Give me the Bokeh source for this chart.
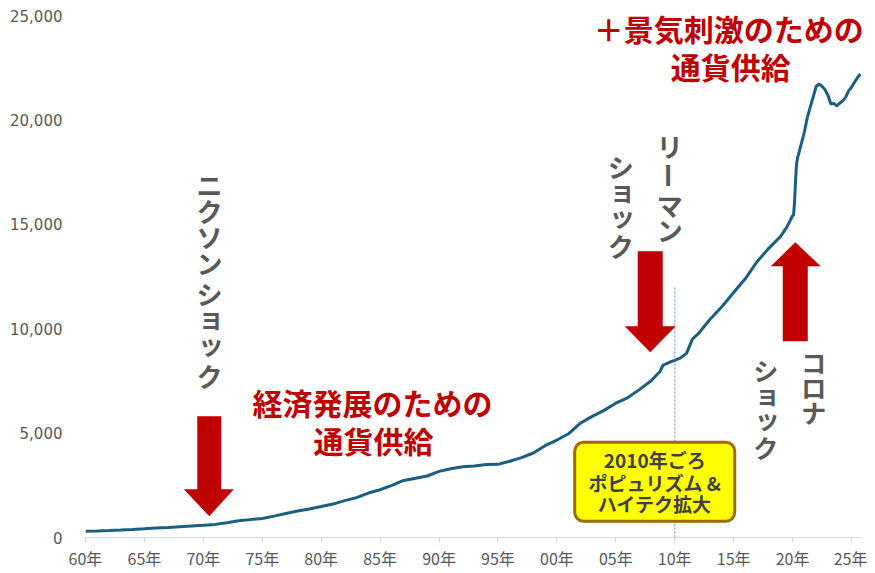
import math
from bokeh.plotting import figure
from bokeh.models import (ColumnDataSource, FixedTicker, NumeralTickFormatter, Range1d,
                          Label, BoxAnnotation)
from bokeh.core.properties import value
from bokeh.embed import file_html
from bokeh.resources import INLINE

# ---------------- data (US M2, billions of dollars) ----------------
dates = ["1960-01", "1961-01", "1962-01", "1963-01", "1964-01", "1965-01", "1966-01", "1967-01",
         "1968-01", "1969-01", "1970-01", "1971-01", "1972-01", "1973-01", "1974-01", "1975-01",
         "1976-01", "1977-01", "1978-01", "1979-01", "1980-01", "1981-01", "1982-01", "1983-01",
         "1984-01", "1985-01", "1986-01", "1987-01", "1988-01", "1989-01", "1990-01", "1991-01",
         "1992-01", "1993-01", "1994-01", "1995-01", "1996-01", "1997-01", "1998-01", "1999-01",
         "2000-01", "2001-01", "2002-01", "2003-01", "2004-01", "2005-01", "2006-01", "2007-01",
         "2008-01", "2008-10", "2009-01", "2009-07", "2010-01", "2010-07", "2011-01", "2011-07",
         "2012-01", "2013-01", "2014-01", "2015-01", "2016-01", "2017-01", "2018-01", "2019-01",
         "2019-07", "2020-01", "2020-02", "2020-03", "2020-04", "2020-05", "2020-06", "2020-09",
         "2021-01", "2021-04", "2021-07", "2021-10", "2022-01", "2022-04", "2022-07", "2022-10",
         "2023-01", "2023-04", "2023-07", "2023-10", "2024-01", "2024-04", "2024-07", "2024-10",
         "2025-01", "2025-04", "2025-07", "2025-10"]
m2 = [298, 314, 334, 361, 389, 421, 455, 475,
      519, 555, 589, 628, 710, 802, 856, 909,
      1024, 1152, 1271, 1369, 1484, 1601, 1766, 1911,
      2128, 2286, 2498, 2732, 2836, 2945, 3167, 3294,
      3384, 3428, 3491, 3503, 3654, 3827, 4046, 4397,
      4667, 4970, 5480, 5801, 6089, 6431, 6690, 7082,
      7507, 7950, 8250, 8380, 8484, 8600, 8820, 9500,
      9760, 10450, 11050, 11730, 12400, 13220, 13860, 14430,
      14850, 15410, 15450, 16040, 17040, 17880, 18160, 18700,
      19420, 20110, 20610, 21100, 21600, 21720, 21610, 21450,
      21180, 20760, 20790, 20670, 20800, 20910, 21080, 21390,
      21560, 21800, 22020, 22200]

tick_years = [1960, 1965, 1970, 1975, 1980, 1985, 1990, 1995, 2000, 2005, 2010, 2015, 2020, 2025]
tick_labels = ["60年", "65年", "70年", "75年", "80年", "85年", "90年", "95年",
               "00年", "05年", "10年", "15年", "20年", "25年"]
y_ticks = [0, 5000, 10000, 15000, 20000, 25000]
highlight_year = 2010

# ---------------- geometry helpers (page pixels -> data) ----------------
FL, FR, FT, FB = 85.0, 861.7, 16.0, 538.3
PX_YR = (850.7 - 85.0) / 65.0
X_END = 1960 + (FR - FL) / PX_YR
PX_UNIT = (FB - FT) / 25000.0


def X(px):
    return 1960 + (px - FL) / PX_YR


def Y(py):
    return (FB - py) / PX_UNIT


xs = [int(d[:4]) + (int(d[5:7]) - 1) / 12.0 for d in dates]

p = figure(frame_width=777, frame_height=522,
           x_range=Range1d(1960, X_END), y_range=Range1d(0, 25000),
           output_backend="svg", toolbar_location=None,
           min_border_left=85, min_border_right=5, min_border_top=15, min_border_bottom=27)
p.outline_line_color = None
p.grid.visible = False
p.background_fill_color = "white"
p.border_fill_color = "white"

xa = p.xaxis[0]
xa.ticker = FixedTicker(ticks=tick_years)
xa.major_label_overrides = {y: lab for y, lab in zip(tick_years, tick_labels)}
xa.axis_line_color = "#D9D9D9"
xa.axis_line_width = 1
xa.major_tick_line_color = "#D9D9D9"
xa.major_tick_out = 5
xa.major_tick_in = 0
xa.minor_tick_line_color = None
xa.major_label_text_font = "Noto Sans CJK JP"
xa.major_label_text_font_size = "16px"
xa.major_label_text_color = "#595959"
xa.major_label_standoff = 3

ya = p.yaxis[0]
ya.ticker = FixedTicker(ticks=y_ticks)
ya.formatter = NumeralTickFormatter(format="0,0")
ya.axis_line_color = None
ya.major_tick_line_color = None
ya.minor_tick_line_color = None
ya.major_tick_out = 0
ya.major_tick_in = 0
ya.major_label_standoff = 23
ya.major_label_text_font = "DejaVu Sans"
ya.major_label_text_font_size = "15px"
ya.major_label_text_color = "#595959"

# dotted vertical line at 2010
p.segment(x0=[highlight_year], y0=[0], x1=[highlight_year], y1=[Y(288)],
          line_color="#8FAADC", line_width=1.5, line_dash="2 2")

# main line
p.line(xs, m2, line_color="#1B5F80", line_width=3)

# arrows
RED = "#C00000"


def arrow(points):
    p.patch([X(a) for a, b in points], [Y(b) for a, b in points], color=RED, line_width=0)


arrow([(196.7, 417), (220.7, 417), (220.7, 490), (233.3, 490), (208.7, 517),
       (183.3, 490), (196.7, 490)])
arrow([(637, 252), (662, 252), (662, 327), (675, 327), (649.5, 353), (624, 327), (637, 327)])
arrow([(782, 342), (807, 342), (807, 267), (820, 267), (794.5, 243), (770, 267), (782, 267)])

# vertical (tategaki) texts
SMALL = set("ョッャュァィ")
GRAY = "#595959"


def tategaki(px, items, size):
    xs_, ys_, ts_, an_ = [], [], [], []
    for ch, py in items:
        dx, dy, ang = 0.0, 0.0, 0.0
        if ch in SMALL:
            dx, dy = 1.5, -3.0
        if ch == "ー":
            ang = -math.pi / 2
        xs_.append(X(px + dx))
        ys_.append(Y(py + dy))
        ts_.append(ch)
        an_.append(ang)
    src = ColumnDataSource(dict(x=xs_, y=ys_, text=ts_, angle=an_))
    p.text(x="x", y="y", text="text", angle="angle", source=src,
           text_font=value("Noto Sans CJK JP"), text_font_size=size,
           text_font_style="bold", text_color=GRAY,
           text_align="center", text_baseline="middle")


tategaki(209, [("ニ", 185), ("ク", 211), ("ソ", 237), ("ン", 263),
               ("シ", 294), ("ョ", 320), ("ッ", 347), ("ク", 376)], "26px")
tategaki(669, [("リ", 146), ("ー", 176), ("マ", 205), ("ン", 230)], "26px")
tategaki(620, [("シ", 167), ("ョ", 193), ("ッ", 219), ("ク", 246)], "26px")
tategaki(813, [("コ", 363), ("ロ", 388), ("ナ", 413)], "25px")
tategaki(765, [("シ", 371), ("ョ", 397), ("ッ", 422), ("ク", 448)], "25px")


def label(px, py, text, size, color, font="Noto Sans CJK JP"):
    p.add_layout(Label(x=X(px), y=Y(py), text=text, text_font=font,
                       text_font_size=size, text_font_style="bold", text_color=color,
                       text_align="center", text_baseline="middle"))


label(372, 403, "経済発展のための", "30px", RED)
label(373, 441, "通貨供給", "30px", RED)
label(728, 29, "＋景気刺激のための", "30px", RED)
label(730, 67, "通貨供給", "30px", RED)

# yellow box
p.add_layout(BoxAnnotation(left=X(574), right=X(734), top=Y(443), bottom=Y(522),
                           fill_color="#FFFF00", fill_alpha=1.0,
                           line_color="#A06A00", line_width=3, line_alpha=1.0,
                           border_radius=9))
label(654, 460, "2010年ごろ", "19px", "#404040")
label(654, 483, "ポピュリズム &", "19px", "#404040")
label(654, 504, "ハイテク拡大", "19px", "#404040")

open("out.html", "w").write(file_html(p, INLINE))
